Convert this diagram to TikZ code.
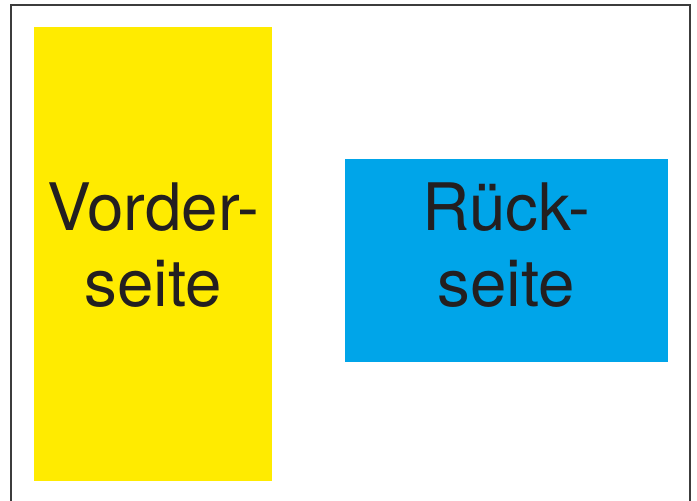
\documentclass[tikz,border=0pt]{standalone}
\usepackage{fontspec}
\setmainfont{TeX Gyre Heros}
\definecolor{cardyellow}{RGB}{255,235,0}
\definecolor{cardblue}{RGB}{0,165,233}
\definecolor{cardtext}{RGB}{35,31,32}
\definecolor{framegray}{RGB}{60,60,60}
\usetikzlibrary{positioning}

\begin{document}
\begin{tikzpicture}[x=1pt, y=1pt,
  cardside/.style={
    rectangle, inner sep=0pt, draw=none
  },
  cardlabel/.style={
    font=\fontsize{65.5}{76}\selectfont,
    text=cardtext, align=center, inner sep=0pt
  }
]
\useasboundingbox (0,0) rectangle (697,501);

% frame, open at the bottom
\draw[framegray, line width=1.5pt] (11,0) |- (690,496) -- (690,0);

\node[cardside, fill=cardyellow, minimum width=238, minimum height=454] (front) at (153,247) {};
\node[cardside, fill=cardblue,   minimum width=323, minimum height=203] (back)  at (506.5,240.5) {};

\node[cardlabel, anchor=base] (frontlabel) at (153,194)   {Vorder-\\seite};
\node[cardlabel, anchor=base] (backlabel)  at (506.5,194) {Rück-\\seite};
\end{tikzpicture}
\end{document}
